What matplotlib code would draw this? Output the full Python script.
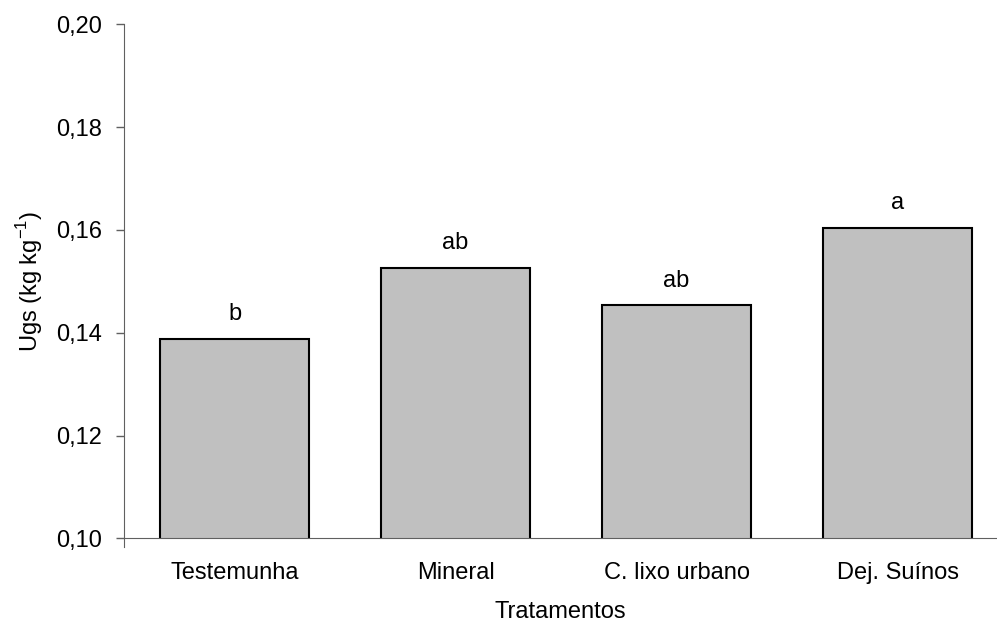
import numpy as np
import matplotlib.pyplot as plt

plt.rcParams['font.family'] = ['Liberation Sans', 'DejaVu Sans']

tratamentos = ['Testemunha', 'Mineral', 'C. lixo urbano', 'Dej. Suínos']
ugs = [0.1388, 0.1526, 0.1453, 0.1604]
letras = ['b', 'ab', 'ab', 'a']

fig = plt.figure(figsize=(9.97, 6.31), dpi=100)
ax = fig.add_axes([0.1244, 0.1469, 0.8756, 0.8146])

x = np.arange(len(tratamentos))
ax.bar(x, ugs, width=0.674, bottom=0, color='#c0c0c0', edgecolor='black', linewidth=1.5)

for xi, v, l in zip(x, ugs, letras):
    ax.text(xi, v + 0.0036, l, ha='center', va='baseline', fontsize=17)

ax.set_ylim(0.10, 0.20)
ax.set_xlim(-0.5, 3.45)
ax.set_yticks(np.arange(0.10, 0.201, 0.02))
ax.set_yticklabels(['0,10', '0,12', '0,14', '0,16', '0,18', '0,20'], fontsize=17)
ax.set_xticks(x)
ax.set_xticklabels(tratamentos, fontsize=17)
ax.tick_params(axis='x', length=0, pad=17)
ax.tick_params(axis='y', length=6, width=1, direction='out', color='#606060', pad=10)

ax.spines['top'].set_visible(False)
ax.spines['right'].set_visible(False)
ax.spines['left'].set_color('#606060')
ax.spines['bottom'].set_color('#606060')
# eixo y passa um pouco abaixo do eixo x, como no original
ax.spines['left'].set_bounds(0.0984, 0.20)

ax.set_xlabel('Tratamentos', fontsize=17, labelpad=12)
ax.set_ylabel('Ugs (kg kg$^{\\mathregular{-1}}$)', fontsize=17, labelpad=8)

fig.savefig('out.png', dpi=100)
